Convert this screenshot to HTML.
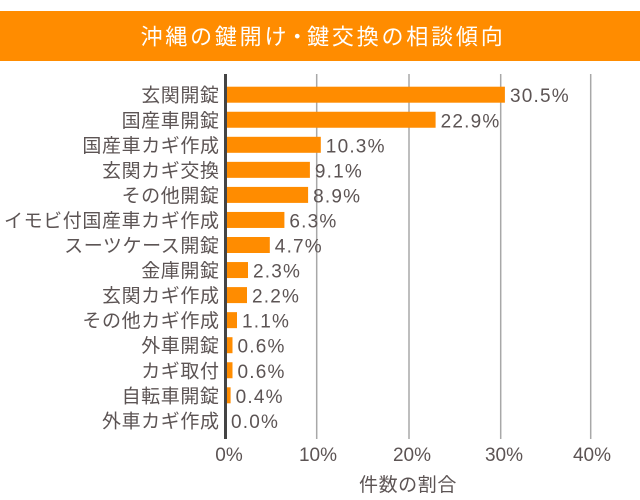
<!DOCTYPE html>
<html>
<head>
<meta charset="utf-8">
<style>
html,body{margin:0;padding:0;background:#fff;}
svg{display:block;}
.lbl{font-family:"Liberation Sans","Noto Sans CJK JP",sans-serif;font-size:19px;fill:#5c5454;letter-spacing:0.6px;}
.val{font-family:"Liberation Sans","Noto Sans CJK JP",sans-serif;font-size:19px;fill:#5c5454;letter-spacing:1.2px;}
.tick{font-family:"Liberation Sans","Noto Sans CJK JP",sans-serif;font-size:19px;fill:#5c5454;}
</style>
</head>
<body>
<svg width="640" height="500" viewBox="0 0 640 500" xmlns="http://www.w3.org/2000/svg">
  <rect x="0" y="0" width="640" height="500" fill="#fff"/>
  <rect x="0" y="11" width="640" height="50" fill="#ff8c00"/>
  <text x="323" y="44.5" text-anchor="middle" font-family="'Liberation Sans','Noto Sans CJK JP',sans-serif" font-size="22" fill="#fff" letter-spacing="2.8">沖縄の鍵開け<tspan dx="-3">・</tspan><tspan dx="-4">鍵交換の相談傾向</tspan></text>

  <!-- gridlines -->
  <g stroke="#a8a8a8" stroke-width="1.5">
    <line x1="316.7" y1="74" x2="316.7" y2="439"/>
    <line x1="409" y1="74" x2="409" y2="439"/>
    <line x1="500.7" y1="74" x2="500.7" y2="439"/>
    <line x1="590.7" y1="74" x2="590.7" y2="439"/>
  </g>

  <!-- bars -->
  <g fill="#ff8c00">
    <rect x="227" y="86.7" width="277.9" height="16"/>
    <rect x="227" y="111.75" width="208.6" height="16"/>
    <rect x="227" y="136.8" width="93.8" height="16"/>
    <rect x="227" y="161.85" width="82.9" height="16"/>
    <rect x="227" y="186.9" width="81.1" height="16"/>
    <rect x="227" y="211.95" width="57.4" height="16"/>
    <rect x="227" y="237" width="42.8" height="16"/>
    <rect x="227" y="262.05" width="21" height="16"/>
    <rect x="227" y="287.1" width="20" height="16"/>
    <rect x="227" y="312.15" width="10" height="16"/>
    <rect x="227" y="337.2" width="5.5" height="16"/>
    <rect x="227" y="362.25" width="5.5" height="16"/>
    <rect x="227" y="387.3" width="3.6" height="16"/>
  </g>

  <!-- axis -->
  <line x1="225.5" y1="74" x2="225.5" y2="439" stroke="#444" stroke-width="3"/>

  <!-- category labels -->
  <g class="lbl" text-anchor="end">
    <text x="219.6" y="101.7">玄関開錠</text>
    <text x="219.6" y="126.75">国産車開錠</text>
    <text x="219.6" y="151.8">国産車カギ作成</text>
    <text x="219.6" y="176.85">玄関カギ交換</text>
    <text x="219.6" y="201.9">その他開錠</text>
    <text x="219.6" y="226.95">イモビ付国産車カギ作成</text>
    <text x="219.6" y="252">スーツケース開錠</text>
    <text x="219.6" y="277.05">金庫開錠</text>
    <text x="219.6" y="302.1">玄関カギ作成</text>
    <text x="219.6" y="327.15">その他カギ作成</text>
    <text x="219.6" y="352.2">外車開錠</text>
    <text x="219.6" y="377.25">カギ取付</text>
    <text x="219.6" y="402.3">自転車開錠</text>
    <text x="219.6" y="427.35">外車カギ作成</text>
  </g>

  <!-- value labels -->
  <g class="val">
    <text x="510" y="102.2">30.5%</text>
    <text x="440.6" y="127.25">22.9%</text>
    <text x="325.8" y="152.3">10.3%</text>
    <text x="314.9" y="177.35">9.1%</text>
    <text x="313.1" y="202.4">8.9%</text>
    <text x="289.4" y="227.45">6.3%</text>
    <text x="274.8" y="252.5">4.7%</text>
    <text x="253" y="277.55">2.3%</text>
    <text x="252" y="302.6">2.2%</text>
    <text x="242" y="327.65">1.1%</text>
    <text x="237.5" y="352.7">0.6%</text>
    <text x="237.5" y="377.75">0.6%</text>
    <text x="235.6" y="402.8">0.4%</text>
    <text x="231" y="427.85">0.0%</text>
  </g>

  <!-- tick labels -->
  <g class="tick" text-anchor="middle">
    <text x="229" y="461">0%</text>
    <text x="318" y="461">10%</text>
    <text x="412" y="461">20%</text>
    <text x="504" y="461">30%</text>
    <text x="592" y="461">40%</text>
  </g>
  <text class="lbl" x="408" y="491" text-anchor="middle">件数の割合</text>
</svg>
</body>
</html>
